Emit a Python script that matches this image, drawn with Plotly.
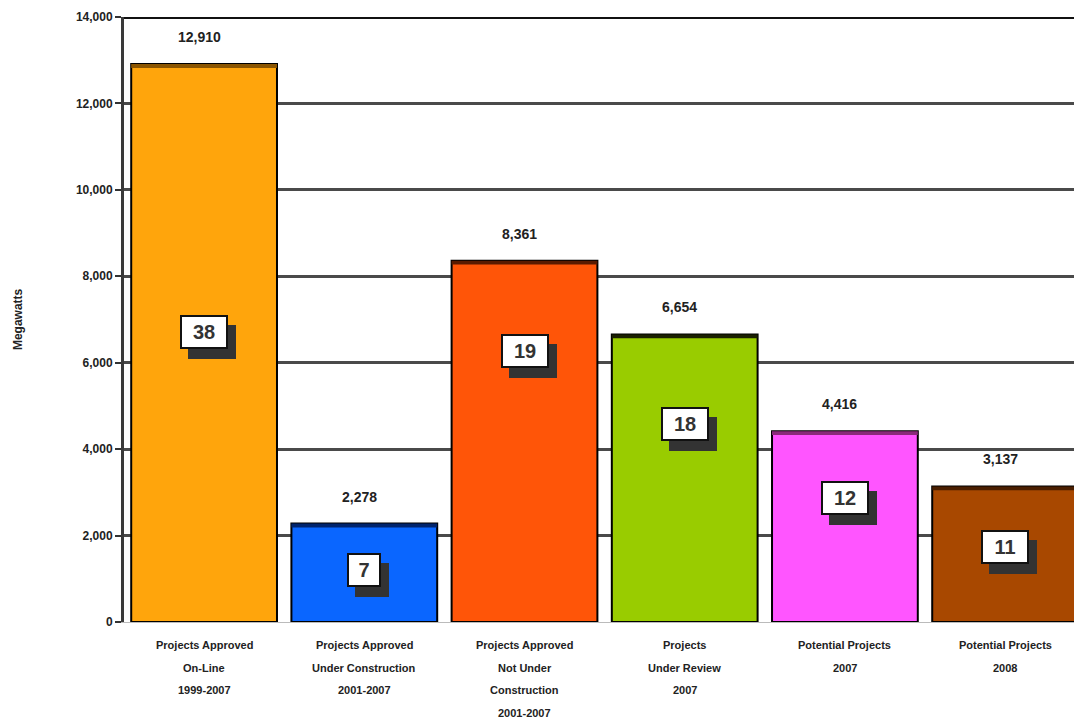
import plotly.graph_objects as go

# ---- data ----
categories = ["cat1", "cat2", "cat3", "cat4", "cat5", "cat6"]
label_lines = [
    ["Projects Approved", "On-Line", "1999-2007"],
    ["Projects Approved", "Under Construction", "2001-2007"],
    ["Projects Approved", "Not Under", "Construction", "2001-2007"],
    ["Projects", "Under Review", "2007"],
    ["Potential Projects", "2007"],
    ["Potential Projects", "2008"],
]
megawatts = [12910, 2278, 8361, 6654, 4416, 3137]
project_counts = [38, 7, 19, 18, 12, 11]
y_ticks = [0, 2000, 4000, 6000, 8000, 10000, 12000, 14000]

# ---- styles ----
fill_colors = ["#FFA50C", "#0A66FF", "#FF5508", "#99CC00", "#FF55FF", "#A84800"]
top_colors = ["#8B5500", "#00246E", "#5A1A00", "#1A2000", "#8A2A7A", "#4A1E00"]
count_box_frac = [0.52, 0.53, 0.75, 0.69, 0.65, 0.55]  # relative height of count boxes
strip = 90

fig = go.Figure()
fig.add_trace(go.Bar(
    x=categories, y=megawatts,
    marker=dict(color=fill_colors, line=dict(color="#000000", width=2)),
    width=0.91, hoverinfo="skip",
))
fig.add_trace(go.Bar(
    x=categories, y=[strip] * len(megawatts), base=[v - strip for v in megawatts],
    marker=dict(color=top_colors, line=dict(width=0)),
    width=0.91, hoverinfo="skip",
))

annotations = []
font_main = "Liberation Sans, Arial, sans-serif"
for i, (c, v, n) in enumerate(zip(categories, megawatts, project_counts)):
    annotations.append(dict(
        x=c, y=v, xref="x", yref="y", text=f"<b>{v:,}</b>", showarrow=False,
        yshift=27, xshift=-5, font=dict(family=font_main, size=14, color="#222222"),
    ))
    yb = v * count_box_frac[i]
    bw = 40 if n >= 10 else 26
    # shadow
    annotations.append(dict(
        x=c, y=yb, xref="x", yref="y", text=" ", showarrow=False,
        width=bw, height=26, xshift=8, yshift=-10,
        bgcolor="#333333", bordercolor="#333333", borderwidth=2, borderpad=2,
    ))
    annotations.append(dict(
        x=c, y=yb, xref="x", yref="y", text=f"<b>{n}</b>", showarrow=False,
        width=bw, height=26,
        bgcolor="#FFFFFF", bordercolor="#111111", borderwidth=2, borderpad=2,
        font=dict(family=font_main, size=20, color="#333333"),
    ))
    for k, line in enumerate(label_lines[i]):
        annotations.append(dict(
            x=c, y=0, xref="x", yref="y", text=f"<b>{line}</b>", showarrow=False,
            yshift=-(23 + 22.5 * k), font=dict(family=font_main, size=11, color="#222222"),
        ))

annotations.append(dict(
    x=-0.112, y=0.5, xref="paper", yref="paper", xanchor="center", yanchor="middle",
    text="<b>Megawatts</b>", textangle=-90, showarrow=False,
    font=dict(family=font_main, size=12, color="#222222"),
))

fig.update_layout(
    width=1074, height=723, autosize=False,
    margin=dict(l=124, r=0, t=17, b=101),
    paper_bgcolor="white", plot_bgcolor="white",
    barmode="overlay", showlegend=False,
    annotations=annotations,
    xaxis=dict(type="category", range=[-0.5, 5.43], showticklabels=False,
               showgrid=False, showline=True, linecolor="#bbbbbb", linewidth=1,
               zeroline=False),
    yaxis=dict(range=[0, 14000], tickvals=y_ticks,
               ticktext=[f"<b>{t:,}</b>" for t in y_ticks],
               tickfont=dict(family=font_main, size=12, color="#222222"),
               showgrid=True, gridcolor="#4a4a4a", gridwidth=3,
               showline=True, linecolor="#3a3a3a", linewidth=3,
               ticks="outside", ticklen=6, tickwidth=2, tickcolor="#333333",
               zeroline=False),
    shapes=[dict(type="line", xref="paper", yref="y", x0=0, x1=1, y0=14000, y1=14000,
                 line=dict(color="#111111", width=4))],
)

fig.write_html("out.html")
